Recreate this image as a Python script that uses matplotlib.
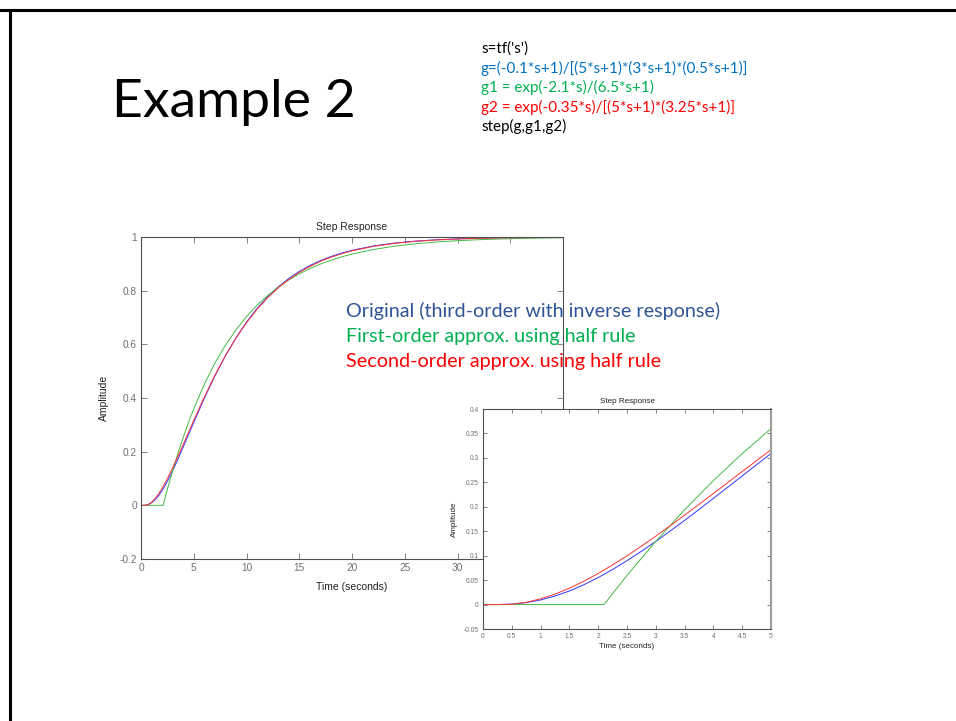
import matplotlib.pyplot as plt
from matplotlib.lines import Line2D

# step responses read at these times (seconds)
t_start = [0, 0.25, 0.5, 0.75, 1, 1.25, 1.5, 1.75, 2, 2.25, 2.5, 2.75, 3,
           3.25, 3.5, 3.75, 4, 4.25, 4.5, 4.75, 5]
t_rest = [6, 7, 8, 9, 10, 11, 12, 13, 14, 15, 16, 17, 18, 19, 20,
          22, 24, 26, 28, 30, 32, 34, 36, 38, 40]
t_g = t_start + t_rest
t_g1 = [0, 2.1, 2.5, 3, 3.5, 4, 4.5, 5] + t_rest

# g: third order with inverse response
y_g = [0.0, 0.0, 0.0009, 0.0039, 0.0094, 0.0174, 0.0278, 0.0405, 0.0552,
       0.0717, 0.0897, 0.1089, 0.1292, 0.1504, 0.1722, 0.1945, 0.2172,
       0.2401, 0.2631, 0.2861, 0.3090,
       0.3984, 0.4817, 0.5572, 0.6243, 0.6829, 0.7336, 0.7770, 0.8140,
       0.8452, 0.8715, 0.8935, 0.9119, 0.9272, 0.9399, 0.9505,
       0.9664, 0.9773, 0.9847, 0.9897, 0.9931, 0.9953, 0.9969, 0.9979,
       0.9986, 0.9990]
# g1: first order plus dead time
y_g1 = [0.0, 0.0, 0.0597, 0.1293, 0.1938, 0.2535, 0.3087, 0.3599,
        0.4512, 0.5295, 0.5966, 0.6541, 0.7034, 0.7457, 0.7820, 0.8131,
        0.8397, 0.8626, 0.8822, 0.8990, 0.9134, 0.9257, 0.9363,
        0.9532, 0.9656, 0.9747, 0.9814, 0.9863, 0.9899, 0.9926, 0.9946,
        0.9960, 0.9971]
# g2: second order plus dead time
y_g2 = [0.0, 0.0, 0.0007, 0.0046, 0.0117, 0.0214, 0.0335, 0.0477, 0.0636,
        0.0811, 0.0998, 0.1195, 0.1400, 0.1612, 0.1829, 0.2049, 0.2272,
        0.2496, 0.2721, 0.2945, 0.3168,
        0.4035, 0.4844, 0.5578, 0.6232, 0.6806, 0.7306, 0.7735, 0.8103,
        0.8415, 0.8679, 0.8901, 0.9088, 0.9244, 0.9374, 0.9483,
        0.9648, 0.9761, 0.9838, 0.9890, 0.9926, 0.9950, 0.9966, 0.9977,
        0.9985, 0.9990]

code_lines = ["s=tf('s')",
              "g=(-0.1*s+1)/[(5*s+1)*(3*s+1)*(0.5*s+1)]",
              "g1 = exp(-2.1*s)/(6.5*s+1)",
              "g2 = exp(-0.35*s)/[(5*s+1)*(3.25*s+1)]",
              "step(g,g1,g2)"]
code_colors = ['black', '#0070C0', '#00B050', '#FF0000', 'black']

notes = ["Original (third-order with inverse response)",
         "First-order approx. using half rule",
         "Second-order approx. using half rule"]
note_colors = ['#2F5597', '#00B050', '#FF0000']

curve_colors = ['#3333ff', '#44bb44', '#ff3333']

W, H = 956, 721
fig = plt.figure(figsize=(W / 100, H / 100), dpi=100)
fig.patch.set_facecolor('white')

# slide frame
fig.add_artist(Line2D([0, 1], [1 - 9.5 / H, 1 - 9.5 / H], color='black', lw=2.2))
fig.add_artist(Line2D([9.5 / W, 9.5 / W], [0, 1 - 9.5 / H], color='black', lw=2.2))

fig.text(112 / W, 1 - 117 / H, 'Example 2', family='Lato', fontsize=38.5,
         va='baseline', ha='left')
for i, (line, c) in enumerate(zip(code_lines, code_colors)):
    fig.text(481 / W, 1 - (53 + 19.6 * i) / H, line, family='Lato',
             fontsize=11, color=c, va='baseline', ha='left')


def style_axes(ax, tick_size, label_size, ticklen):
    for sp in ax.spines.values():
        sp.set_color('#505050')
        sp.set_linewidth(0.8)
    ax.tick_params(direction='in', top=True, right=True, length=ticklen,
                   width=0.6, color='#707070', labelcolor='#707070',
                   labelsize=tick_size, pad=3)
    for lab in ax.get_xticklabels() + ax.get_yticklabels():
        lab.set_family('Liberation Sans')
    ax.set_title('Step Response', family='Liberation Sans',
                 fontsize=label_size, color='#222222', pad=5)
    ax.set_xlabel('Time (seconds)', family='Liberation Sans',
                  fontsize=label_size, color='#222222')
    ax.set_ylabel('Amplitude', family='Liberation Sans',
                  fontsize=label_size, color='#222222')


def draw_curves(ax):
    ax.plot(t_g, y_g, color=curve_colors[0], lw=0.7)
    ax.plot(t_g1, y_g1, color=curve_colors[1], lw=0.7)
    ax.plot(t_g, y_g2, color=curve_colors[2], lw=0.7)


# full response
ax = fig.add_axes([141 / W, 1 - 559 / H, 422 / W, 322 / H])
draw_curves(ax)
ax.set_xlim(0, 40)
ax.set_ylim(-0.2, 1)
ax.set_xticks([0, 5, 10, 15, 20, 25, 30, 35, 40])
ax.set_yticks([-0.2, 0, 0.2, 0.4, 0.6, 0.8, 1])
ax.set_yticklabels(['-0.2', '0', '0.2', '0.4', '0.6', '0.8', '1'])
style_axes(ax, 7.3, 7.5, 4)
ax.xaxis.labelpad = 6
ax.yaxis.labelpad = 7.5

# zoom on the first 5 seconds
ax2 = fig.add_axes([483 / W, 1 - 629 / H, 288 / W, 220 / H], zorder=3)
ax2.set_facecolor('white')
draw_curves(ax2)
ax2.set_xlim(0, 5)
ax2.set_ylim(-0.05, 0.4)
ax2.set_xticks([0, 0.5, 1, 1.5, 2, 2.5, 3, 3.5, 4, 4.5, 5])
ax2.set_xticklabels(['0', '0.5', '1', '1.5', '2', '2.5', '3', '3.5', '4', '4.5', '5'])
ax2.set_yticks([-0.05, 0, 0.05, 0.1, 0.15, 0.2, 0.25, 0.3, 0.35, 0.4])
ax2.set_yticklabels(['-0.05', '0', '0.05', '0.1', '0.15', '0.2', '0.25', '0.3', '0.35', '0.4'])
style_axes(ax2, 4.8, 5.8, 3)
ax2.spines['right'].set_color('#a0a0a0')
ax2.spines['right'].set_linewidth(1.6)
ax2.set_title('Step Response', family='Liberation Sans', fontsize=5.8,
              color='#222222', pad=4)
ax2.xaxis.labelpad = 2
ax2.yaxis.labelpad = 4

for i, (line, c) in enumerate(zip(notes, note_colors)):
    fig.text(346 / W, 1 - (317 + 25 * i) / H, line, family='Lato',
             fontsize=14.2, color=c, va='baseline', ha='left', zorder=5)

fig.savefig('out.png', dpi=100, facecolor='white')
